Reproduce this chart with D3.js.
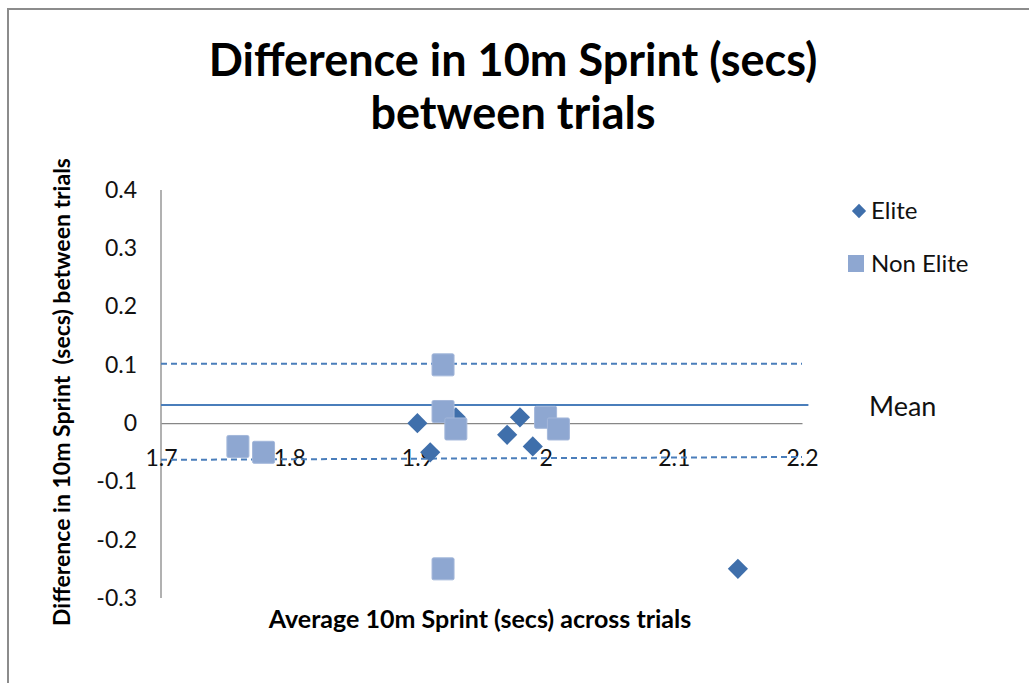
<!DOCTYPE html>
<html>
<head>
<meta charset="utf-8">
<script src="https://cdn.jsdelivr.net/npm/d3@7"></script>
<style>
  body { margin: 0; background: #fff; }
  svg { display: block; font-family: Lato, "Open Sans", sans-serif; }
</style>
</head>
<body>
<div id="chart"></div>
<script>
const width = 1029,
    height = 683;

// Elite (diamonds)
const eliteX = [1.90, 1.91, 1.93, 1.97, 1.98, 1.99, 2.15];
const eliteY = [0.00, -0.05, 0.01, -0.02, 0.01, -0.04, -0.25];
// Non Elite (squares)
const nonEliteX = [1.76, 1.78, 1.92, 1.92, 1.93, 2.00, 2.01, 1.92];
const nonEliteY = [-0.04, -0.05, 0.10, 0.02, -0.01, 0.01, -0.01, -0.25];
// reference lines (x, y pairs at each end)
const meanLine = [[1.7, 0.031], [2.205, 0.031]];
const upperLine = [[1.7, 0.102], [2.2, 0.102]];
const lowerLine = [[1.7, -0.063], [2.2, -0.058]];

const xTicks = [1.7, 1.8, 1.9, 2.0, 2.1, 2.2];
const yTicks = [0.4, 0.3, 0.2, 0.1, 0, -0.1, -0.2, -0.3];

const blue = '#3f6fab',
    lightBlue = '#8ea7d1',
    lineBlue = '#4a7ebb';

var svg = d3.select('#chart')
    .append('svg')
    .attr('width', width)
    .attr('height', height);

// outer frame
svg.append('rect')
    .attr('x', 8).attr('y', 9)
    .attr('width', 1060).attr('height', 720)
    .attr('fill', '#fff')
    .attr('stroke', '#8c8c8c')
    .attr('stroke-width', 2);

let xScale = d3.scaleLinear().domain([1.7, 2.2]).range([161, 802]);
let yScale = d3.scaleLinear().domain([-0.3, 0.4]).range([598, 190]);

let fmt = d => String(+d.toFixed(1)).replace('−', '-');

// axes
let xAxis = d3.axisBottom(xScale).tickValues(xTicks).tickSize(0).tickPadding(27).tickFormat(fmt);
let yAxis = d3.axisLeft(yScale).tickValues(yTicks).tickSize(0).tickPadding(24).tickFormat(fmt);

let yAxisG = svg.append('g')
    .attr('transform', 'translate(' + xScale(1.7) + ',0)')
    .call(yAxis);
let xAxisG = svg.append('g')
    .attr('transform', 'translate(0,' + yScale(0) + ')')
    .call(xAxis);

[xAxisG, yAxisG].forEach(g => {
    g.select('.domain').attr('stroke', '#878787').attr('stroke-width', 1.3);
    g.selectAll('text').attr('font-size', 23).attr('fill', '#111')
        .attr('font-family', 'Lato, sans-serif');
});
yAxisG.select('.domain').attr('d', 'M0,' + yScale(0.4) + 'V' + yScale(-0.3));

// reference lines
let line = d3.line().x(d => xScale(d[0])).y(d => yScale(d[1]));
svg.append('path').datum(meanLine).attr('d', line)
    .attr('fill', 'none').attr('stroke', lineBlue).attr('stroke-width', 2);
svg.append('path').datum(upperLine).attr('d', line)
    .attr('fill', 'none').attr('stroke', lineBlue).attr('stroke-width', 2)
    .attr('stroke-dasharray', '6,4');
svg.append('path').datum(lowerLine).attr('d', line)
    .attr('fill', 'none').attr('stroke', lineBlue).attr('stroke-width', 2)
    .attr('stroke-dasharray', '6,4');

// elite diamonds
svg.selectAll('.elite')
    .data(d3.zip(eliteX, eliteY))
    .enter()
    .append('path')
    .attr('class', 'elite')
    .attr('d', d3.symbol().type(d3.symbolDiamond2).size(260))
    .attr('transform', d => 'translate(' + xScale(d[0]) + ',' + yScale(d[1]) + ')')
    .attr('fill', blue);

// non elite squares
svg.selectAll('.nonelite')
    .data(d3.zip(nonEliteX, nonEliteY))
    .enter()
    .append('rect')
    .attr('class', 'nonelite')
    .attr('x', d => xScale(d[0]) - 11)
    .attr('y', d => yScale(d[1]) - 11)
    .attr('width', 22).attr('height', 22)
    .attr('rx', 1.5)
    .attr('fill', lightBlue)
    .attr('stroke', '#a3b7da')
    .attr('stroke-width', 1);

// legend
svg.append('path')
    .attr('d', d3.symbol().type(d3.symbolDiamond2).size(130))
    .attr('transform', 'translate(859,211)')
    .attr('fill', blue);
svg.append('text').attr('x', 871).attr('y', 219)
    .attr('font-size', 24).attr('fill', '#111').text('Elite');
svg.append('rect')
    .attr('x', 848).attr('y', 255).attr('width', 16).attr('height', 17)
    .attr('fill', lightBlue);
svg.append('text').attr('x', 871).attr('y', 272)
    .attr('font-size', 24).attr('fill', '#111').text('Non Elite');

svg.append('text').attr('x', 869).attr('y', 416)
    .attr('font-size', 27).attr('fill', '#111').text('Mean');

// titles
svg.append('text').attr('x', 513).attr('y', 76)
    .attr('text-anchor', 'middle').attr('font-size', 45).attr('font-weight', 'bold')
    .text('Difference in 10m Sprint (secs)');
svg.append('text').attr('x', 513).attr('y', 129)
    .attr('text-anchor', 'middle').attr('font-size', 45).attr('font-weight', 'bold')
    .text('between trials');

svg.append('text').attr('x', 480).attr('y', 628)
    .attr('text-anchor', 'middle').attr('font-size', 25).attr('font-weight', 'bold')
    .text('Average 10m Sprint (secs) across trials');

svg.append('text')
    .attr('transform', 'translate(70,392) rotate(-90)')
    .attr('text-anchor', 'middle').attr('font-size', 23).attr('font-weight', 'bold')
    .attr('xml:space', 'preserve')
    .text('Difference in 10m Sprint  (secs) between trials');
</script>
</body>
</html>
